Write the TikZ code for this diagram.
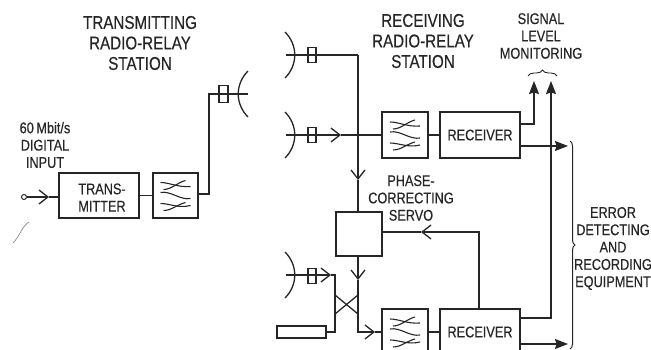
\documentclass[tikz,border=0pt]{standalone}
\usepackage{fontspec}
\setmainfont[FakeStretch=0.82, FakeBold=0.4]{Liberation Sans}
\usetikzlibrary{arrows.meta}
\usetikzlibrary{decorations.pathreplacing}

\colorlet{ink}{black!85}

\tikzset{
	wire/.style={draw=ink, line width=1.3pt},
	openarrow/.style={wire, -{Straight Barb[length=9pt, width=14pt, line width=1.3pt]}},
	solidarrow/.style={wire, -{Stealth[length=13pt, width=10pt, inset=1.5pt]}},
	unit/.style={draw=ink, line width=1.3pt, inner sep=0pt},
	feed/.style={draw=ink, line width=1.2pt, inner sep=0pt, minimum width=8pt, minimum height=15pt},
	label/.style={align=center, inner sep=0pt, text=ink, font=\fontsize{15.5}{17.3}\selectfont},
	title/.style={align=center, inner sep=0pt, text=ink, font=\fontsize{18.5}{20.5}\selectfont},
	filtersym/.pic={
		\draw[ink, line width=1.1pt] (-15,-13) .. controls (-6,-13) and (2,-8) .. (15,-9);
		\draw[ink, line width=1.1pt] (-12,-6) .. controls (-4,-6) and (2,-13) .. (10,-15);
		\draw[ink, line width=1.1pt] (-15,-3) .. controls (-5,-5) and (5,5) .. (15,3);
		\draw[ink, line width=1.1pt] (-15,8) .. controls (-6,8) and (3,13) .. (15,10);
		\draw[ink, line width=1.1pt] (-12,15) .. controls (-4,15) and (2,9) .. (10,7);
	},
	dish/.pic={
		\draw[ink, line width=1.3pt] (-10,-23) .. controls (3,-10) and (3,10) .. (-10,23);
	}
}

\begin{document}
\begin{tikzpicture}[x=1pt, y=-1pt]
	\useasboundingbox (0,0) rectangle (651,350);

	% transmitting station
	\node[title] (txtitle) at (140,43) {TRANSMITTING\\RADIO-RELAY\\STATION};
	\node[label] (txinput) at (45,145) {60\,Mbit/s\\DIGITAL\\INPUT};
	\node[unit, minimum width=80pt, minimum height=45pt] (tx) at (99,195.5) {};
	\node[label] (txlabel) at (102,197.5) {TRANS-\\MITTER};
	\node[unit, minimum width=45pt, minimum height=45pt] (flta) at (175.5,195.5) {};
	\pic at (flta) {filtersym};
	\node[draw=ink, circle, line width=1pt, inner sep=0pt, minimum size=5pt] (port) at (24,197) {};
	\coordinate (porttip) at (49,197);
	\draw[openarrow] (port) -- (porttip);
	\draw[wire] (porttip) -- (tx.west |- porttip);
	\draw[wire] (tx) -- (flta);
	\node[feed, minimum width=9pt, minimum height=17pt] (feedt) at (223.5,94) {};
	\coordinate (dishtend) at (248,94);
	\pic[xscale=-1] at (238,94) {dish};
	\draw[wire] (flta.east) ++(0,-1.5) -| (209,94) -- (dishtend);
	\draw[ink!60, line width=0.6pt] (29,222) .. controls (22,226) and (20,236) .. (13,243);

	% receiving station, antennas
	\node[title] (rxtitle) at (423,41) {RECEIVING\\RADIO-RELAY\\STATION};
	\pic at (295,55) {dish};
	\pic at (295,135) {dish};
	\pic at (295,275) {dish};
	\node[feed] (feedb) at (312,55) {};
	\node[feed] (feedc) at (312,135) {};
	\node[feed] (feedd) at (312,276) {};
	\coordinate (antb) at (286,55);
	\coordinate (antc) at (286,135);
	\coordinate (antd) at (286,275);

	% receiving station, units
	\node[unit, minimum width=46pt, minimum height=46pt] (fltb) at (405,135) {};
	\pic at (fltb) {filtersym};
	\node[unit, minimum width=80pt, minimum height=46pt] (rxa) at (480,135) {};
	\node[label] (rxalabel) at (rxa) {RECEIVER};
	\node[unit, minimum width=46pt, minimum height=44pt] (servo) at (359,234) {};
	\node[unit, minimum width=46pt, minimum height=46pt] (fltc) at (405,332) {};
	\pic at (fltc) {filtersym};
	\node[unit, minimum width=80pt, minimum height=46pt] (rxb) at (480,332) {};
	\node[label] (rxblabel) at (rxb) {RECEIVER};
	\node[draw=ink, line width=1.1pt, inner sep=0pt, minimum width=49pt, minimum height=12pt] (load) at (301.5,332) {};
	\node[label] (servolabel) at (411,198) {PHASE-\\CORRECTING\\SERVO};
	\node[label] (monitorlabel) at (541,36) {SIGNAL\\LEVEL\\MONITORING};
	\node[label] (errorlabel) at (613,248.5) {ERROR\\DETECTING\\AND\\RECORDING\\EQUIPMENT};

	% upper branch and combiner
	\coordinate (cornerb) at (358,55);
	\coordinate (tipb) at (358,180);
	\draw[wire] (antb) -- (cornerb);
	\draw[openarrow] (cornerb) -- (tipb);
	\draw[wire] (tipb) -- (servo.north -| tipb);
	\coordinate (tipc) at (341,135);
	\draw[openarrow] (antc) -- (tipc);
	\draw[wire] (tipc) -- (fltb.west);
	\draw[wire] (fltb) -- (rxa);

	% lower branch and cross
	\coordinate (tipd) at (331,275);
	\coordinate (crossa) at (335,295);
	\coordinate (crossb) at (335,314);
	\coordinate (crossc) at (358,295);
	\coordinate (crossd) at (358,314);
	\coordinate (tipe) at (358,280);
	\coordinate (tipf) at (375,332);
	\draw[openarrow] (antd) -- (tipd);
	\draw[wire] (tipd) -- (335,275) -- (crossa) -- (crossb) |- (load.east);
	\draw[openarrow] (servo.south -| tipe) -- (tipe);
	\draw[wire] (tipe) -- (crossc) -- (crossd);
	\draw[wire] (crossa) -- (crossd);
	\draw[wire] (crossb) -- (crossc);
	\draw[openarrow] (crossd) |- (tipf);
	\draw[wire] (tipf) -- (fltc.west);
	\draw[wire] (fltc) -- (rxb);

	% servo feedback
	\coordinate (backtop) at (479,232);
	\coordinate (backtip) at (421,232);
	\draw[openarrow] (rxb.north -| backtop) -- (backtop) -- (backtip);
	\draw[wire] (backtip) -- (servo.east |- backtip);

	% receiver outputs
	\coordinate (levela) at (534,124);
	\coordinate (levelb) at (551,318);
	\draw[solidarrow] (rxa.east |- levela) -- (levela) -- (534,81);
	\draw[solidarrow] (rxb.east |- levelb) -- (levelb) -- (551,81);
	\coordinate (erra) at (568,146);
	\coordinate (errb) at (568,344);
	\draw[solidarrow] (rxa.east |- erra) -- (erra);
	\draw[solidarrow] (rxb.east |- errb) -- (errb);

	% braces
	\draw[ink, line width=0.9pt, decorate, decoration={brace, amplitude=6pt}] (528,76) -- (557,76);
	\draw[ink, line width=1pt, decorate, decoration={brace, amplitude=5pt}] (570,141) -- (570,349);
\end{tikzpicture}
\end{document}
